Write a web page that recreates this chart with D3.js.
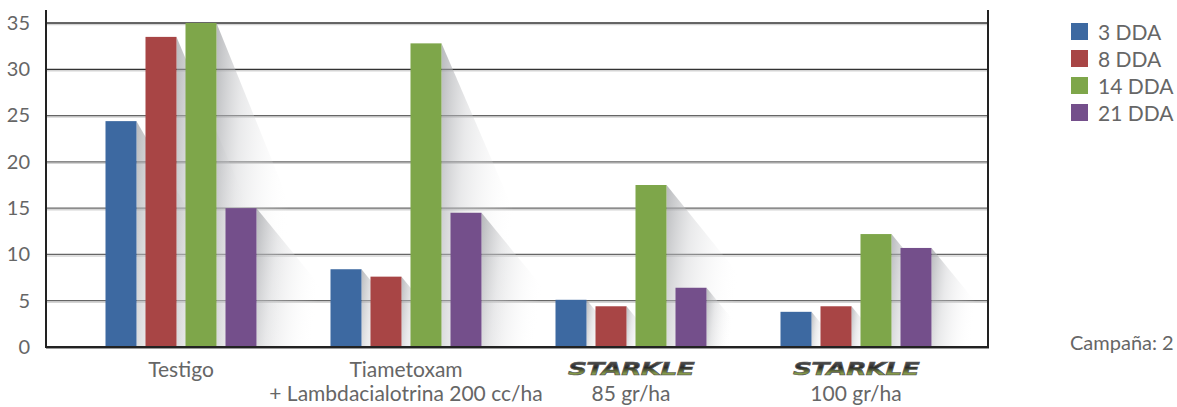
<!DOCTYPE html>
<html><head><meta charset="utf-8">
<script src="https://cdn.jsdelivr.net/npm/d3@7"></script>
<style>body{margin:0;background:#fff}svg{display:block;font-family:Lato,"Open Sans",sans-serif}</style>
</head><body><svg id="c" width="1177" height="407"></svg>
<script>
const categories = ["Testigo","Tiametoxam","Starkle85","Starkle100"];
const labelLine1 = ["Testigo","Tiametoxam","STARKLE","STARKLE"];
const labelLine2 = ["","+ Lambdacialotrina 200 cc/ha","85 gr/ha","100 gr/ha"];
const series = ["3 DDA","8 DDA","14 DDA","21 DDA"];
const dda3  = [24.4, 8.4, 5.1, 3.8];
const dda8  = [33.5, 7.6, 4.4, 4.4];
const dda14 = [35.0, 32.8, 17.5, 12.2];
const dda21 = [15.0, 14.5, 6.4, 10.7];
const yTicks = [0,5,10,15,20,25,30,35];
const colors = ["#3d69a1","#a84545","#7ea64a","#744f8b"];

(function(){
const values = [dda3, dda8, dda14, dda21];
const svg = d3.select("#c");
const pL = 46, pR = 988, pT = 10, pB = 347;
const x0 = d3.scaleBand().domain(categories).range([68.5, 968.5]);
const GW = 151;
const x1 = d3.scaleBand().domain(series).range([0, GW]).paddingInner(0.225);
const x1off = (x0.bandwidth() - GW) / 2;
const y = d3.scaleLinear().domain([0,35]).range([pB, 23]);

const defs = svg.append("defs");
const g1 = defs.append("linearGradient").attr("id","shad").attr("x1","0").attr("x2","1").attr("y1","0").attr("y2","0.25");
g1.append("stop").attr("offset","0").attr("stop-color","#9a9ca0").attr("stop-opacity",0.7);
g1.append("stop").attr("offset","0.35").attr("stop-color","#c8c9cc").attr("stop-opacity",0.4);
g1.append("stop").attr("offset","1").attr("stop-color","#ffffff").attr("stop-opacity",0);
const g2 = defs.append("linearGradient").attr("id","logo").attr("x1","0").attr("x2","0").attr("y1","0").attr("y2","1");
g2.append("stop").attr("offset","0").attr("stop-color","#6a6a6a");
g2.append("stop").attr("offset","0.45").attr("stop-color","#2a2a2a");
g2.append("stop").attr("offset","0.75").attr("stop-color","#8aa04a");
g2.append("stop").attr("offset","1").attr("stop-color","#444");

// gridlines
const grid = svg.append("g");
yTicks.filter(t => t > 0).forEach(t => {
  grid.append("line").attr("x1", pL).attr("x2", pR).attr("y1", y(t)+1.5).attr("y2", y(t)+1.5)
    .attr("stroke", "#d4d4d4").attr("stroke-width", 1.5);
  grid.append("line").attr("x1", pL).attr("x2", pR).attr("y1", y(t)).attr("y2", y(t))
    .attr("stroke", t >= 30 ? "#333" : "#666").attr("stroke-width", 1.3);
});

// shadows
const shadowG = svg.append("g");
const barG = svg.append("g");
categories.forEach((c, ci) => {
  series.forEach((s, si) => {
    const v = values[si][ci];
    const xl = x0(c) + x1off + x1(s);
    const xr = xl + x1.bandwidth();
    const yt = y(v);
    const h = pB - yt;
    const dx = Math.min(0.45 * h, 72);
    shadowG.append("path")
      .attr("d", `M${xr},${yt} L${xr + dx},${yt + h*0.55} L${xr + dx*1.1},${pB} L${xr},${pB} Z`)
      .attr("fill", "url(#shad)");
  });
});
categories.forEach((c, ci) => {
  series.forEach((s, si) => {
    const v = values[si][ci];
    barG.append("rect")
      .attr("x", x0(c) + x1off + x1(s)).attr("width", x1.bandwidth())
      .attr("y", y(v)).attr("height", pB - y(v))
      .attr("fill", colors[si]);
  });
});

// axes frame
svg.append("line").attr("x1", pL).attr("x2", pL).attr("y1", pT).attr("y2", pB+1).attr("stroke","#222").attr("stroke-width",2);
svg.append("line").attr("x1", pR).attr("x2", pR).attr("y1", pT).attr("y2", pB+1).attr("stroke","#222").attr("stroke-width",2);
svg.append("line").attr("x1", pL).attr("x2", pR+1).attr("y1", pB+1.5).attr("y2", pB+1.5).attr("stroke","#999").attr("stroke-width",1);
svg.append("line").attr("x1", pL).attr("x2", pR+1).attr("y1", pB).attr("y2", pB).attr("stroke","#222").attr("stroke-width",2);

// y tick labels
const yAxis = d3.axisLeft(y).tickValues(yTicks).tickSize(0).tickPadding(16);
const ya = svg.append("g").attr("transform", `translate(${pL},0)`).call(yAxis);
ya.select(".domain").remove();
ya.selectAll("text").attr("font-size", 20).attr("fill", "#666").attr("font-family","Lato,sans-serif");

// x labels
categories.forEach((c, ci) => {
  const cx = x0(c) + x0.bandwidth()/2;
  if (labelLine1[ci] === "STARKLE") {
    svg.append("text").attr("x", cx).attr("y", 375).attr("text-anchor","middle")
      .attr("font-size", 18).attr("font-weight", 900).attr("font-style","italic")
      .attr("font-family","'DejaVu Sans',sans-serif").attr("letter-spacing", -0.5)
      .attr("transform", `translate(${cx},0) scale(1.47,1) translate(${-cx},0)`)
      .attr("fill","url(#logo)").attr("stroke","#555").attr("stroke-width",0.6)
      .text(labelLine1[ci]);
  } else {
    svg.append("text").attr("x", cx).attr("y", 377).attr("text-anchor","middle")
      .attr("font-size", 21).attr("fill","#666").text(labelLine1[ci]);
  }
  if (labelLine2[ci]) {
    svg.append("text").attr("x", cx).attr("y", 401).attr("text-anchor","middle")
      .attr("font-size", 21).attr("fill","#666").text(labelLine2[ci]);
  }
});

// legend
const lg = svg.append("g").attr("transform","translate(1071,23)");
series.forEach((s, i) => {
  lg.append("rect").attr("x",0).attr("y", i*27).attr("width",17).attr("height",17).attr("fill",colors[i]);
  lg.append("text").attr("x",27).attr("y", i*27+17).attr("font-size",21).attr("fill","#666").text(s);
});

svg.append("text").attr("x",1070).attr("y",350).attr("font-size",20).attr("fill","#666").text("Campaña: 2");
})();
</script></body></html>
